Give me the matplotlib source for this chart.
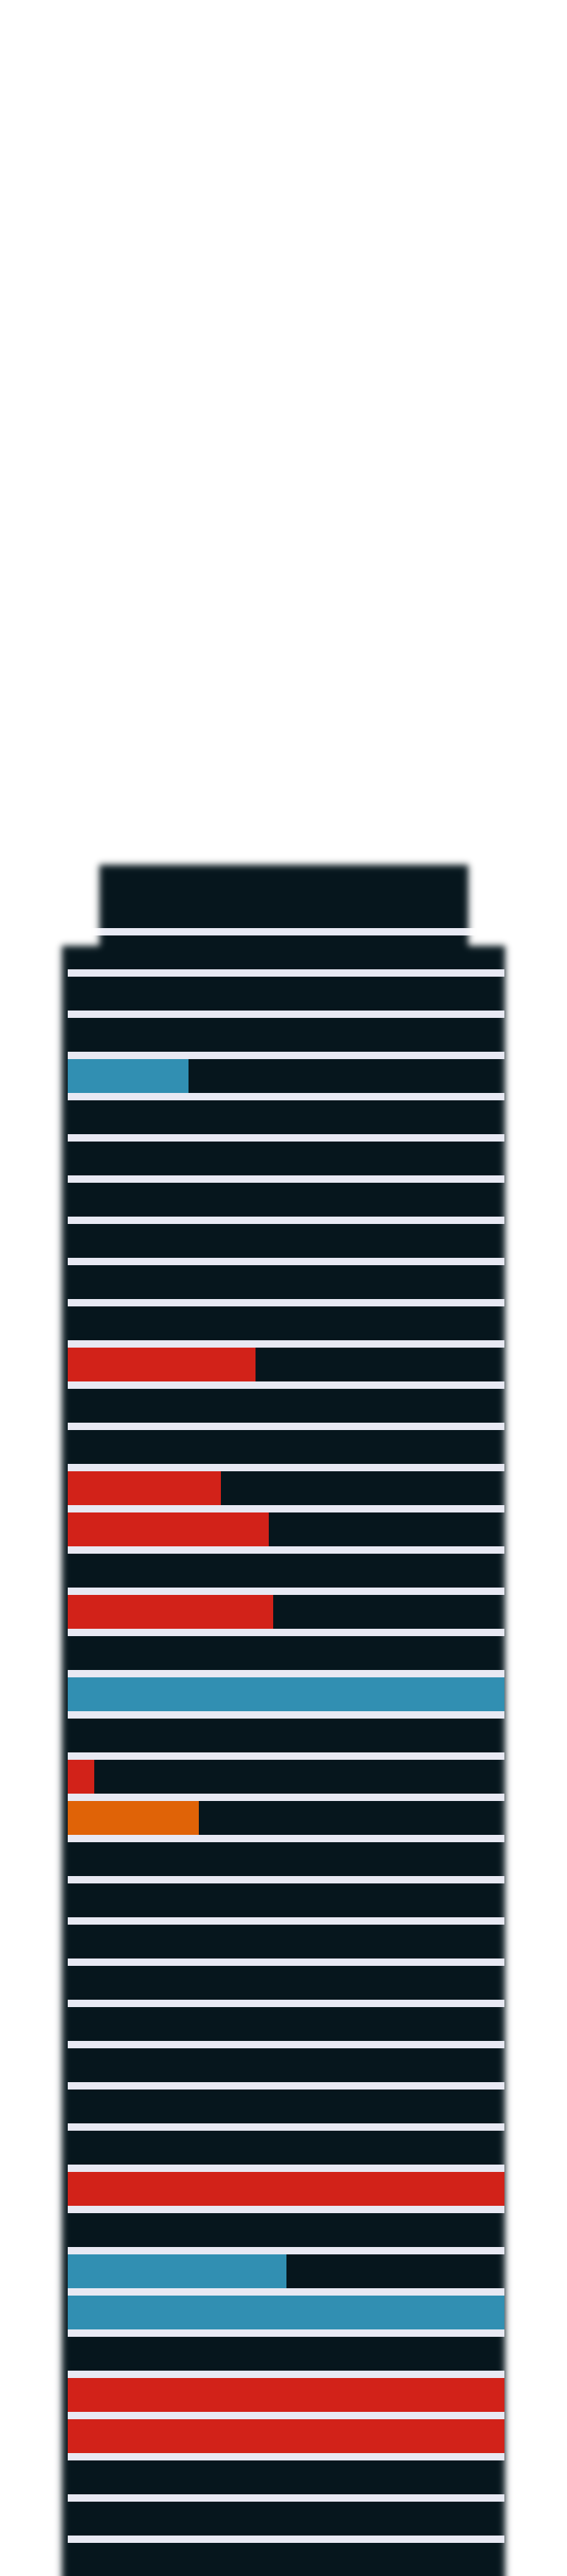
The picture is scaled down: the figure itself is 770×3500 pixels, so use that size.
import numpy as np
import matplotlib
matplotlib.use('Agg')
import matplotlib.pyplot as plt

# floors of the building, top to bottom (row 0 sits just under the roof line)
n_floors = 40
floor_ids = list(range(n_floors))

# filled floors: row index, percent filled, status
bar_rows = [3, 10, 13, 14, 16, 18, 20, 21, 30, 32, 33, 35, 36]
bar_values = [27.6, 43, 35, 46, 47, 100, 6, 30, 100, 50, 100, 100, 100]
bar_status = ['blue', 'red', 'red', 'red', 'red', 'blue', 'red', 'orange',
              'red', 'blue', 'blue', 'red', 'red']

status_colors = {'blue': '#318fb2', 'red': '#d22219', 'orange': '#e06307'}
dark = '#05151c'
sep = '#e8e9f3'

W, H = 770, 3500
ROW_PX = 56
GAP_PX = 10
top_line_px = 1260.7          # top edge of the roof separator
ax_left, ax_right = 92.3, 685.0


def blur_1d(arr, sigma, axis):
    r = int(4 * sigma)
    k = np.exp(-0.5 * (np.arange(-r, r + 1) / sigma) ** 2)
    k /= k.sum()
    pad = [(0, 0), (0, 0)]
    pad[axis] = (r, r)
    a = np.pad(arr, pad, mode='edge')
    return np.apply_along_axis(lambda v: np.convolve(v, k, mode='valid'), axis, a)


def building_image():
    mask = np.zeros((H, W))
    mask[1285:, 84:686] = 1.0      # main body
    mask[1175:1290, 135:636] = 1.0  # roof block
    mask = blur_1d(blur_1d(mask, 4.5, 0), 4.5, 1)

    rgba = np.zeros((H, W, 4))
    rgba[..., :3] = matplotlib.colors.to_rgb(dark)
    y0 = int(round(top_line_px))
    rgba[y0:y0 + GAP_PX, :, :3] = matplotlib.colors.to_rgb(sep)
    rgba[..., 3] = mask
    return rgba


fig = plt.figure(figsize=(W / 100, H / 100), dpi=100, facecolor='white')

# blurred building silhouette
ax_bg = fig.add_axes([0, 0, 1, 1])
ax_bg.imshow(building_image(), extent=[0, W, H, 0], aspect='auto', interpolation='nearest')
ax_bg.set_xlim(0, W)
ax_bg.set_ylim(H, 0)
ax_bg.axis('off')

# floor bars
ax = fig.add_axes([ax_left / W, 0, (ax_right - ax_left) / W, (H - top_line_px) / H])
ax.patch.set_alpha(0)
half_gap = GAP_PX / ROW_PX / 2
y_top = -0.5 - half_gap
y_bottom = y_top + (H - top_line_px) / ROW_PX
ax.set_ylim(y_bottom, y_top)
ax.set_xlim(0, 100)

ax.barh(bar_rows, bar_values, height=1 - GAP_PX / ROW_PX, left=0,
        color=[status_colors[s] for s in bar_status], linewidth=0)

# separator lines between floors
sep_y = [f - 0.5 for f in floor_ids[1:]] + [n_floors - 0.5]
ax.hlines(sep_y, 0, 100, colors=sep, linewidth=GAP_PX * 72 / 100)
ax.axis('off')

fig.savefig('out.png', dpi=100, facecolor='white')
plt.close(fig)
